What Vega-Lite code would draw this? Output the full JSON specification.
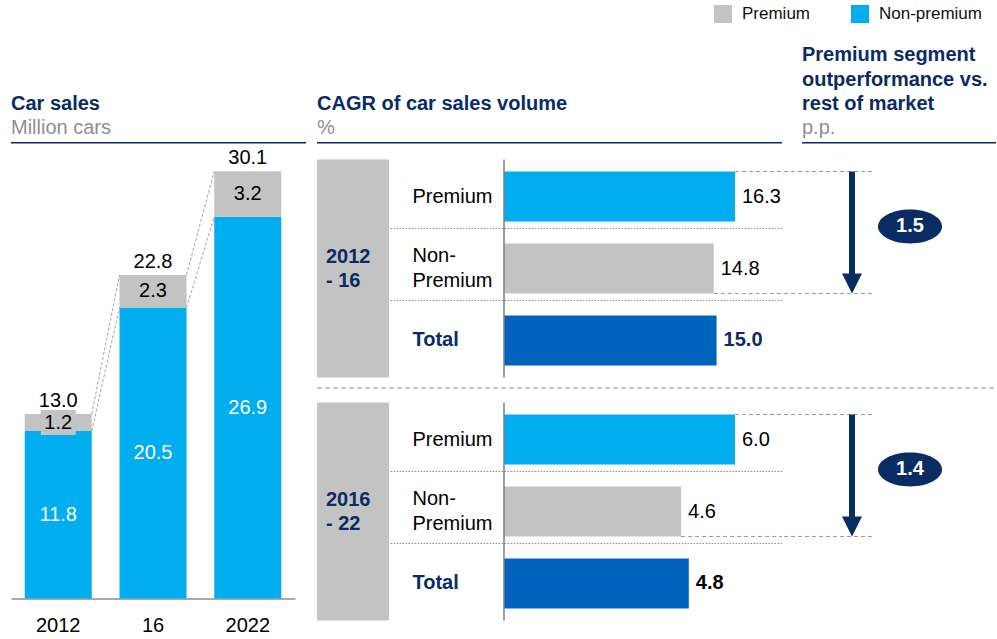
{
  "$schema": "https://vega.github.io/schema/vega-lite/v6.json",
  "padding": {"left": 11, "top": 5, "right": 2, "bottom": 2},
  "background": "white",
  "config": {
    "font": "Liberation Sans",
    "view": {"stroke": null},
    "title": {"anchor": "start", "frame": "group", "font": "Liberation Sans", "fontSize": 20, "fontWeight": "bold", "color": "#0a2c64", "subtitleFont": "Liberation Sans", "subtitleFontSize": 20, "subtitleColor": "#8f8f8f", "subtitlePadding": 4, "offset": 4, "lineHeight": 24.5, "subtitleLineHeight": 24},
    "axis": {"labelFont": "Liberation Sans"},
    "legend": {"labelFont": "Liberation Sans"}
  },
  "datasets": {
    "sales": [
      {"year": "2012", "segment": "Non-premium", "value": 11.8},
      {"year": "2012", "segment": "Premium", "value": 1.2},
      {"year": "16", "segment": "Non-premium", "value": 20.5},
      {"year": "16", "segment": "Premium", "value": 2.3},
      {"year": "2022", "segment": "Non-premium", "value": 26.9},
      {"year": "2022", "segment": "Premium", "value": 3.2}
    ],
    "links": [
      {"from": "2012", "to": "16", "start": 13.0, "end": 22.8},
      {"from": "2012", "to": "16", "start": 11.8, "end": 20.5},
      {"from": "16", "to": "2022", "start": 22.8, "end": 30.1},
      {"from": "16", "to": "2022", "start": 20.5, "end": 26.9}
    ],
    "cagr": [
      {"period": "2012-16", "category": "Premium", "value": 16.3},
      {"period": "2012-16", "category": "Non-Premium", "value": 14.8},
      {"period": "2012-16", "category": "Total", "value": 15.0},
      {"period": "2016-22", "category": "Premium", "value": 6.0},
      {"period": "2016-22", "category": "Non-Premium", "value": 4.6},
      {"period": "2016-22", "category": "Total", "value": 4.8}
    ],
    "gap": [
      {"period": "2012-16", "from": "Premium", "to": "Non-Premium", "diff": 1.5},
      {"period": "2016-22", "from": "Premium", "to": "Non-Premium", "diff": 1.4}
    ],
    "periods": [
      {"period": "2012-16", "label": "2012\n- 16"},
      {"period": "2016-22", "label": "2016\n- 22"}
    ]
  },
  "spacing": 10,
  "hconcat": [
    {
      "spacing": 3.5,
      "vconcat": [
        {
          "width": 295, "height": 1.5,
          "title": {"text": "Car sales", "subtitle": "Million cars"},
          "view": {"fill": "#0a2c64", "stroke": null},
          "data": {"values": []},
          "mark": "point",
          "encoding": {}
        },
        {
          "width": 284, "height": 440,
          "data": {"name": "sales"},
          "layer": [
            {
              "mark": {"type": "bar"},
              "encoding": {
                "x": {"field": "year", "type": "nominal", "scale": {"domain": ["2012", "16", "2022"], "paddingInner": 0.293, "paddingOuter": 0.145, "align": 0.5},
                      "axis": {"title": null, "labelAngle": 0, "labelFontSize": 20, "labelColor": "#000000", "ticks": false, "tickSize": 0, "labelPadding": 17, "domainColor": "#8c8c8c", "domainWidth": 1.5}},
                "y": {"field": "value", "type": "quantitative", "stack": "zero", "scale": {"domain": [0, 31], "nice": false}, "axis": null},
                "order": {"field": "segment", "sort": "ascending"},
                "color": {"field": "segment", "type": "nominal",
                          "scale": {"domain": ["Premium", "Non-premium"], "range": ["#c3c3c3", "#00adee"]},
                          "legend": {"orient": "none", "legendX": 703, "legendY": -137, "direction": "horizontal", "title": null, "symbolType": "square", "symbolSize": 324, "symbolStrokeWidth": 0, "symbolOpacity": 1, "labelFontSize": 17, "labelColor": "#111111", "labelOffset": 10, "columnPadding": 40}}
              }
            },
            {
              "data": {"name": "links"},
              "mark": {"type": "rule", "strokeDash": [3, 2], "strokeWidth": 0.8, "color": "#8a8a8a", "xOffset": 33.5, "x2Offset": -33.5},
              "encoding": {
                "x": {"field": "from", "type": "nominal"},
                "x2": {"field": "to"},
                "y": {"field": "start", "type": "quantitative"},
                "y2": {"field": "end"}
              }
            },
            {
              "mark": {"type": "point", "shape": "M-1,-0.714L1,-0.714L1,0.714L-1,0.714Z", "size": 1225, "filled": true, "color": "#c3c3c3", "strokeWidth": 0},
              "encoding": {
                "x": {"field": "year", "type": "nominal"},
                "y": {"field": "value", "type": "quantitative", "stack": "zero", "bandPosition": 0.5},
                "detail": {"field": "segment"},
                "order": {"field": "segment", "sort": "ascending"},
                "opacity": {"condition": {"test": "datum.segment === 'Premium'", "value": 1}, "value": 0}
              }
            },
            {
              "mark": {"type": "text", "fontSize": 20, "baseline": "middle"},
              "encoding": {
                "x": {"field": "year", "type": "nominal"},
                "y": {"field": "value", "type": "quantitative", "stack": "zero", "bandPosition": 0.5},
                "detail": {"field": "segment"},
                "order": {"field": "segment", "sort": "ascending"},
                "text": {"field": "value", "type": "quantitative", "format": ".1f"},
                "color": {"condition": {"test": "datum.segment === 'Non-premium'", "value": "#ffffff"}, "value": "#000000"}
              }
            },
            {
              "mark": {"type": "text", "fontSize": 20, "baseline": "alphabetic", "dy": -7, "color": "#000000"},
              "encoding": {
                "x": {"field": "year", "type": "nominal"},
                "y": {"aggregate": "sum", "field": "value", "type": "quantitative"},
                "text": {"aggregate": "sum", "field": "value", "type": "quantitative", "format": ".1f"}
              }
            }
          ]
        }
      ]
    },
    {
      "spacing": 14.5,
      "vconcat": [
        {
          "spacing": 20,
          "hconcat": [
            {
              "width": 465, "height": 1.5,
              "title": {"text": "CAGR of car sales volume", "subtitle": "%"},
              "view": {"fill": "#0a2c64", "stroke": null},
              "data": {"values": []},
              "mark": "point",
              "encoding": {}
            },
            {
              "width": 194, "height": 1.5,
              "title": {"text": ["Premium segment", "outperformance vs.", "rest of market"], "subtitle": "p.p."},
              "view": {"fill": "#0a2c64", "stroke": null},
              "data": {"values": []},
              "mark": "point",
              "encoding": {}
            }
          ]
        },
        {
          "spacing": 13,
          "vconcat": [
            {
              "spacing": 8,
              "vconcat": [
                {
                  "spacing": 0,
                  "hconcat": [
                    {
                      "width": 72, "height": 218,
                      "data": {"name": "periods"},
                      "transform": [{"filter": "datum.period === '2012-16'"}],
                      "layer": [
                        {"mark": {"type": "rect", "color": "#c3c3c3"}, "encoding": {}},
                        {"mark": {"type": "text", "align": "left", "baseline": "middle", "dx": -27, "dy": -12, "lineBreak": "\n", "fontSize": 20, "fontWeight": "bold", "color": "#0a2c64", "lineHeight": 24},
                         "encoding": {"text": {"field": "label", "type": "nominal"}}}
                      ]
                    },
                    {
                      "width": 392, "height": 218,
                      "data": {"name": "cagr"},
                      "transform": [{"filter": "datum.period === '2012-16'"}],
                      "layer": [
                        {
                          "mark": {"type": "bar"},
                          "encoding": {
                            "x": {"field": "value", "type": "quantitative", "scale": {"range": [114, 345], "nice": false, "zero": true}, "axis": null},
                            "y": {"field": "category", "type": "nominal",
                                  "scale": {"domain": ["Premium", "Non-Premium", "Total"], "paddingInner": 0.306, "paddingOuter": 0.167},
                                  "axis": {"title": null, "domain": false, "ticks": false, "tickSize": 0, "grid": false, "labelAlign": "left", "labelPadding": -22, "labelBaseline": "middle", "labelFontSize": 20, "labelLineHeight": 25, "labelLimit": 200, "labelOverlap": false,
                                           "labelColor": {"condition": {"test": "datum.value === 'Total'", "value": "#0a2c64"}, "value": "#000000"},
                                           "labelFontWeight": {"condition": {"test": "datum.value === 'Total'", "value": "bold"}, "value": "normal"},
                                           "labelOffset": {"condition": {"test": "datum.value === 'Non-Premium'", "value": -12.5}, "value": 0},
                                           "labelExpr": "datum.value === 'Non-Premium' ? ['Non-', 'Premium'] : datum.value"}},
                            "color": {"condition": [{"test": "datum.category === 'Premium'", "value": "#00adee"}, {"test": "datum.category === 'Total'", "value": "#0064be"}], "value": "#c3c3c3"}
                          }
                        },
                        {
                          "transform": [{"filter": "datum.category !== 'Total'"}],
                          "mark": {"type": "rule", "color": "#8c8c8c", "strokeDash": [1.5, 1.5], "strokeWidth": 1},
                          "encoding": {"y": {"field": "category", "type": "nominal", "bandPosition": 1.14}}
                        },
                        {
                          "transform": [{"filter": "datum.category === 'Premium'"}],
                          "mark": {"type": "rule", "color": "#7f7f7f", "strokeWidth": 1.5},
                          "encoding": {"x": {"datum": 0, "type": "quantitative"}}
                        },
                        {
                          "transform": [{"filter": "datum.category !== 'Total'"}],
                          "mark": {"type": "text", "align": "left", "baseline": "middle", "dx": 7, "fontSize": 20, "color": "#000000"},
                          "encoding": {
                            "x": {"field": "value", "type": "quantitative"},
                            "y": {"field": "category", "type": "nominal"},
                            "text": {"field": "value", "type": "quantitative", "format": ".1f"}
                          }
                        },
                        {
                          "transform": [{"filter": "datum.category === 'Total'"}],
                          "mark": {"type": "text", "align": "left", "baseline": "middle", "dx": 7, "fontSize": 20, "fontWeight": "bold", "color": "#0a2c64"},
                          "encoding": {
                            "x": {"field": "value", "type": "quantitative"},
                            "y": {"field": "category", "type": "nominal"},
                            "text": {"field": "value", "type": "quantitative", "format": ".1f"}
                          }
                        },
                        {
                          "transform": [{"filter": "datum.category === 'Premium'"}],
                          "mark": {"type": "rule", "strokeDash": [4, 3], "color": "#9a9a9a", "strokeWidth": 1},
                          "encoding": {
                            "x": {"field": "value", "type": "quantitative"},
                            "x2": {"value": "width"},
                            "y": {"field": "category", "type": "nominal", "bandPosition": 0}
                          }
                        },
                        {
                          "transform": [{"filter": "datum.category === 'Non-Premium'"}],
                          "mark": {"type": "rule", "strokeDash": [4, 3], "color": "#9a9a9a", "strokeWidth": 1},
                          "encoding": {
                            "x": {"field": "value", "type": "quantitative"},
                            "x2": {"value": "width"},
                            "y": {"field": "category", "type": "nominal", "bandPosition": 1}
                          }
                        }
                      ]
                    },
                    {
                      "width": 88, "height": 218,
                      "data": {"name": "gap"},
                      "transform": [{"filter": "datum.period === '2012-16'"}],
                      "layer": [
                        {
                          "mark": {"type": "rule", "strokeDash": [4, 3], "color": "#9a9a9a", "strokeWidth": 1},
                          "encoding": {"y": {"field": "from", "type": "nominal", "bandPosition": 0, "scale": {"domain": ["Premium", "Non-Premium", "Total"], "paddingInner": 0.306, "paddingOuter": 0.167}, "axis": null}}
                        },
                        {
                          "mark": {"type": "rule", "strokeDash": [4, 3], "color": "#9a9a9a", "strokeWidth": 1},
                          "encoding": {"y": {"field": "to", "type": "nominal", "bandPosition": 1}}
                        },
                        {
                          "mark": {"type": "rule", "color": "#0a2c64", "strokeWidth": 6, "xOffset": -20, "y2Offset": -14},
                          "encoding": {
                            "x": {"value": "width"},
                            "y": {"field": "from", "type": "nominal", "bandPosition": 0},
                            "y2": {"field": "to", "bandPosition": 1}
                          }
                        },
                        {
                          "mark": {"type": "point", "shape": "M-1,-1L1,-1L0,1Z", "size": 400, "filled": true, "color": "#0a2c64", "opacity": 1, "strokeWidth": 0, "xOffset": -20, "yOffset": -10},
                          "encoding": {
                            "x": {"value": "width"},
                            "y": {"field": "to", "type": "nominal", "bandPosition": 1}
                          }
                        },
                        {
                          "mark": {"type": "point", "shape": "M-1,0A1,0.53,0,1,1,1,0A1,0.53,0,1,1,-1,0Z", "size": 4096, "filled": true, "color": "#0a2c64", "opacity": 1, "strokeWidth": 0, "xOffset": 38},
                          "encoding": {
                            "x": {"value": "width"},
                            "y": {"field": "from", "type": "nominal", "bandPosition": 1.1}
                          }
                        },
                        {
                          "mark": {"type": "text", "color": "#ffffff", "fontWeight": "bold", "fontSize": 20, "align": "center", "baseline": "middle", "dx": 38},
                          "encoding": {
                            "x": {"value": "width"},
                            "y": {"field": "from", "type": "nominal", "bandPosition": 1.1},
                            "text": {"field": "diff", "type": "quantitative", "format": ".1f"}
                          }
                        }
                      ]
                    }
                  ]
                },
                {
                  "width": 678, "height": 0.01,
                  "view": {"stroke": "#a6a6a6", "strokeDash": [4, 4], "strokeWidth": 1, "fill": null},
                  "data": {"values": []},
                  "mark": "point",
                  "encoding": {}
                }
              ]
            },
            {
              "spacing": 0,
              "hconcat": [
                {
                  "width": 72, "height": 218,
                  "data": {"name": "periods"},
                  "transform": [{"filter": "datum.period === '2016-22'"}],
                  "layer": [
                    {"mark": {"type": "rect", "color": "#c3c3c3"}, "encoding": {}},
                    {"mark": {"type": "text", "align": "left", "baseline": "middle", "dx": -27, "dy": -12, "lineBreak": "\n", "fontSize": 20, "fontWeight": "bold", "color": "#0a2c64", "lineHeight": 24},
                     "encoding": {"text": {"field": "label", "type": "nominal"}}}
                  ]
                },
                {
                  "width": 392, "height": 218,
                  "data": {"name": "cagr"},
                  "transform": [{"filter": "datum.period === '2016-22'"}],
                  "layer": [
                    {
                      "mark": {"type": "bar"},
                      "encoding": {
                        "x": {"field": "value", "type": "quantitative", "scale": {"range": [114, 345], "nice": false, "zero": true}, "axis": null},
                        "y": {"field": "category", "type": "nominal",
                              "scale": {"domain": ["Premium", "Non-Premium", "Total"], "paddingInner": 0.306, "paddingOuter": 0.167},
                              "axis": {"title": null, "domain": false, "ticks": false, "tickSize": 0, "grid": false, "labelAlign": "left", "labelPadding": -22, "labelBaseline": "middle", "labelFontSize": 20, "labelLineHeight": 25, "labelLimit": 200, "labelOverlap": false,
                                       "labelColor": {"condition": {"test": "datum.value === 'Total'", "value": "#0a2c64"}, "value": "#000000"},
                                       "labelFontWeight": {"condition": {"test": "datum.value === 'Total'", "value": "bold"}, "value": "normal"},
                                       "labelOffset": {"condition": {"test": "datum.value === 'Non-Premium'", "value": -12.5}, "value": 0},
                                       "labelExpr": "datum.value === 'Non-Premium' ? ['Non-', 'Premium'] : datum.value"}},
                        "color": {"condition": [{"test": "datum.category === 'Premium'", "value": "#00adee"}, {"test": "datum.category === 'Total'", "value": "#0064be"}], "value": "#c3c3c3"}
                      }
                    },
                    {
                      "transform": [{"filter": "datum.category !== 'Total'"}],
                      "mark": {"type": "rule", "color": "#8c8c8c", "strokeDash": [1.5, 1.5], "strokeWidth": 1},
                      "encoding": {"y": {"field": "category", "type": "nominal", "bandPosition": 1.14}}
                    },
                    {
                      "transform": [{"filter": "datum.category === 'Premium'"}],
                      "mark": {"type": "rule", "color": "#7f7f7f", "strokeWidth": 1.5},
                      "encoding": {"x": {"datum": 0, "type": "quantitative"}}
                    },
                    {
                      "transform": [{"filter": "datum.category !== 'Total'"}],
                      "mark": {"type": "text", "align": "left", "baseline": "middle", "dx": 7, "fontSize": 20, "color": "#000000"},
                      "encoding": {
                        "x": {"field": "value", "type": "quantitative"},
                        "y": {"field": "category", "type": "nominal"},
                        "text": {"field": "value", "type": "quantitative", "format": ".1f"}
                      }
                    },
                    {
                      "transform": [{"filter": "datum.category === 'Total'"}],
                      "mark": {"type": "text", "align": "left", "baseline": "middle", "dx": 7, "fontSize": 20, "fontWeight": "bold", "color": "#000000"},
                      "encoding": {
                        "x": {"field": "value", "type": "quantitative"},
                        "y": {"field": "category", "type": "nominal"},
                        "text": {"field": "value", "type": "quantitative", "format": ".1f"}
                      }
                    },
                    {
                      "transform": [{"filter": "datum.category === 'Premium'"}],
                      "mark": {"type": "rule", "strokeDash": [4, 3], "color": "#9a9a9a", "strokeWidth": 1},
                      "encoding": {
                        "x": {"field": "value", "type": "quantitative"},
                        "x2": {"value": "width"},
                        "y": {"field": "category", "type": "nominal", "bandPosition": 0}
                      }
                    },
                    {
                      "transform": [{"filter": "datum.category === 'Non-Premium'"}],
                      "mark": {"type": "rule", "strokeDash": [4, 3], "color": "#9a9a9a", "strokeWidth": 1},
                      "encoding": {
                        "x": {"field": "value", "type": "quantitative"},
                        "x2": {"value": "width"},
                        "y": {"field": "category", "type": "nominal", "bandPosition": 1}
                      }
                    }
                  ]
                },
                {
                  "width": 88, "height": 218,
                  "data": {"name": "gap"},
                  "transform": [{"filter": "datum.period === '2016-22'"}],
                  "layer": [
                    {
                      "mark": {"type": "rule", "strokeDash": [4, 3], "color": "#9a9a9a", "strokeWidth": 1},
                      "encoding": {"y": {"field": "from", "type": "nominal", "bandPosition": 0, "scale": {"domain": ["Premium", "Non-Premium", "Total"], "paddingInner": 0.306, "paddingOuter": 0.167}, "axis": null}}
                    },
                    {
                      "mark": {"type": "rule", "strokeDash": [4, 3], "color": "#9a9a9a", "strokeWidth": 1},
                      "encoding": {"y": {"field": "to", "type": "nominal", "bandPosition": 1}}
                    },
                    {
                      "mark": {"type": "rule", "color": "#0a2c64", "strokeWidth": 6, "xOffset": -20, "y2Offset": -14},
                      "encoding": {
                        "x": {"value": "width"},
                        "y": {"field": "from", "type": "nominal", "bandPosition": 0},
                        "y2": {"field": "to", "bandPosition": 1}
                      }
                    },
                    {
                      "mark": {"type": "point", "shape": "M-1,-1L1,-1L0,1Z", "size": 400, "filled": true, "color": "#0a2c64", "opacity": 1, "strokeWidth": 0, "xOffset": -20, "yOffset": -10},
                      "encoding": {
                        "x": {"value": "width"},
                        "y": {"field": "to", "type": "nominal", "bandPosition": 1}
                      }
                    },
                    {
                      "mark": {"type": "point", "shape": "M-1,0A1,0.53,0,1,1,1,0A1,0.53,0,1,1,-1,0Z", "size": 4096, "filled": true, "color": "#0a2c64", "opacity": 1, "strokeWidth": 0, "xOffset": 38},
                      "encoding": {
                        "x": {"value": "width"},
                        "y": {"field": "from", "type": "nominal", "bandPosition": 1.1}
                      }
                    },
                    {
                      "mark": {"type": "text", "color": "#ffffff", "fontWeight": "bold", "fontSize": 20, "align": "center", "baseline": "middle", "dx": 38},
                      "encoding": {
                        "x": {"value": "width"},
                        "y": {"field": "from", "type": "nominal", "bandPosition": 1.1},
                        "text": {"field": "diff", "type": "quantitative", "format": ".1f"}
                      }
                    }
                  ]
                }
              ]
            }
          ]
        }
      ]
    }
  ]
}
